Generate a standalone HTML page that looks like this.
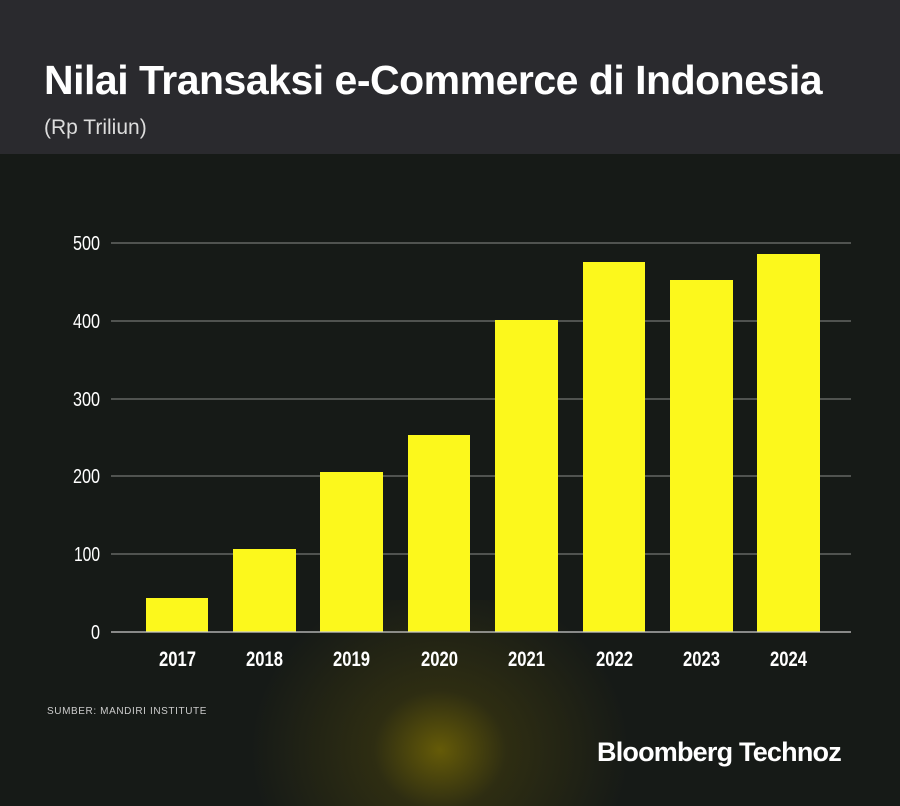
<!DOCTYPE html>
<html style="overflow:hidden;width:900px;height:806px"><head><style>
body{margin:0;width:900px;height:806px;overflow:hidden;background:#161a17;font-family:"Liberation Sans",sans-serif;position:relative}
.hdr{position:absolute;left:0;top:0;width:900px;height:154px;background:#2a2a2e}
.glow{position:absolute;left:240px;top:600px;width:400px;height:206px;background:radial-gradient(ellipse 190px 170px at 200px 150px,rgba(115,102,5,0.85) 0%,rgba(75,68,12,0.45) 35%,rgba(22,26,23,0) 100%)}
h1{position:absolute;left:44px;top:60px;margin:0;color:#fff;font-size:41px;font-weight:bold;letter-spacing:-0.5px;line-height:1}
.sub{position:absolute;left:44px;top:117px;color:#ddd;font-size:21px;line-height:1}
.src{position:absolute;left:47px;top:706px;color:#ccc;font-size:10px;letter-spacing:0.6px}
.logo{position:absolute;left:597px;top:737px;color:#fff;font-size:27px;font-weight:bold;letter-spacing:-0.8px}
svg{position:absolute;left:0;top:0}
text{font-family:"Liberation Sans",sans-serif;fill:#fff}
</style></head><body>
<div class="hdr"></div>
<div class="glow"></div>
<h1>Nilai Transaksi e-Commerce di Indonesia</h1>
<div class="sub">(Rp Triliun)</div>
<svg width="900" height="806">
<g stroke="#8a8c8a" stroke-width="1">
<line x1="111" x2="851" y1="243" y2="243"/><line x1="111" x2="851" y1="321" y2="321"/>
<line x1="111" x2="851" y1="399" y2="399"/><line x1="111" x2="851" y1="476" y2="476"/>
<line x1="111" x2="851" y1="554" y2="554"/>
</g>
<g font-size="20" text-anchor="end">
<text x="100" y="250" textLength="27" lengthAdjust="spacingAndGlyphs">500</text>
<text x="100" y="328" textLength="27" lengthAdjust="spacingAndGlyphs">400</text>
<text x="100" y="406" textLength="27" lengthAdjust="spacingAndGlyphs">300</text>
<text x="100" y="483" textLength="27" lengthAdjust="spacingAndGlyphs">200</text>
<text x="100" y="561" textLength="26" lengthAdjust="spacingAndGlyphs">100</text>
<text x="100" y="639" textLength="9" lengthAdjust="spacingAndGlyphs">0</text>
</g>
<g fill="#fcf81c">
<rect x="146" y="598" width="62" height="34"/>
<rect x="233" y="549" width="63" height="83"/>
<rect x="320" y="472" width="63" height="160"/>
<rect x="408" y="435" width="62" height="197"/>
<rect x="495" y="320" width="63" height="312"/>
<rect x="583" y="262" width="62" height="370"/>
<rect x="670" y="280" width="63" height="352"/>
<rect x="757" y="254" width="63" height="378"/>
</g>
<line x1="111" x2="851" y1="632" y2="632" stroke="#ccc" stroke-width="1.2"/>
<g font-size="21" font-weight="bold">
<text x="159" y="666" textLength="37" lengthAdjust="spacingAndGlyphs">2017</text>
<text x="246" y="666" textLength="37" lengthAdjust="spacingAndGlyphs">2018</text>
<text x="333" y="666" textLength="37" lengthAdjust="spacingAndGlyphs">2019</text>
<text x="421" y="666" textLength="37" lengthAdjust="spacingAndGlyphs">2020</text>
<text x="508" y="666" textLength="37" lengthAdjust="spacingAndGlyphs">2021</text>
<text x="596" y="666" textLength="37" lengthAdjust="spacingAndGlyphs">2022</text>
<text x="683" y="666" textLength="37" lengthAdjust="spacingAndGlyphs">2023</text>
<text x="770" y="666" textLength="37" lengthAdjust="spacingAndGlyphs">2024</text>
</g>
</svg>
<div class="src">SUMBER: MANDIRI INSTITUTE</div>
<div class="logo">Bloomberg Technoz</div>
</body></html>
